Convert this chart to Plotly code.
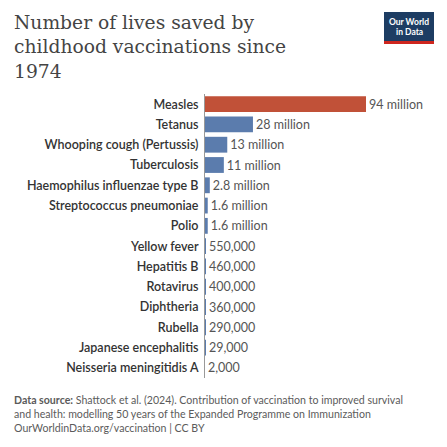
import plotly.graph_objects as go

categories = ["Measles", "Tetanus", "Whooping cough (Pertussis)", "Tuberculosis",
              "Haemophilus influenzae type B", "Streptococcus pneumoniae", "Polio",
              "Yellow fever", "Hepatitis B", "Rotavirus", "Diphtheria", "Rubella",
              "Japanese encephalitis", "Neisseria meningitidis A"]
values = [94e6, 28e6, 13e6, 11e6, 2.8e6, 1.6e6, 1.6e6,
          550000, 460000, 400000, 360000, 290000, 29000, 2000]
value_labels = ["94 million", "28 million", "13 million", "11 million", "2.8 million",
                "1.6 million", "1.6 million", "550,000", "460,000", "400,000",
                "360,000", "290,000", "29,000", "2,000"]

colors = ["#c15138" if c == "Measles" else "#5b7cad" for c in categories]
W = H = 447
O = 8  # page body margin offset


def px_x(v):
    return (v - O) / W


def px_y(v):
    return 1 - (v - O) / H


fig = go.Figure(go.Bar(
    x=values, y=categories, orientation="h",
    marker=dict(color=colors, line=dict(width=0)),
    text=value_labels, textposition="outside", cliponaxis=False,
    textfont=dict(family="Lato", size=12.5, color="#555"),
    width=0.78,
))

fig.update_layout(
    width=W, height=H,
    margin=dict(l=0, r=0, t=0, b=0),
    paper_bgcolor="white", plot_bgcolor="white",
    showlegend=False,
    xaxis=dict(range=[0, 94e6], visible=False, domain=[px_x(205), px_x(366)]),
    yaxis=dict(autorange="reversed", ticks="", showline=True, linecolor="#999",
               linewidth=1, domain=[px_y(378), px_y(94)],
               tickfont=dict(family="Lato", size=12.5, color="#333", weight=600),
               ticklabelstandoff=3),
)

fig.add_annotation(
    x=px_x(12), y=px_y(10), xref="paper", yref="paper", xanchor="left", yanchor="top",
    align="left", showarrow=False,
    text="Number of lives saved by<br>childhood vaccinations since<br>1974",
    font=dict(family="DejaVu Serif", size=18.7, color="#444"),
)

fig.add_shape(type="rect", xref="paper", yref="paper", x0=px_x(384), x1=px_x(434),
              y0=px_y(41), y1=px_y(12), fillcolor="#1d3d63", line=dict(width=0),
              layer="below")
fig.add_shape(type="rect", xref="paper", yref="paper", x0=px_x(384), x1=px_x(434),
              y0=px_y(44), y1=px_y(41), fillcolor="#ce261e", line=dict(width=0),
              layer="below")
for label, yy in [("Our World", 21.5), ("in Data", 32)]:
    fig.add_annotation(x=px_x(409), y=px_y(yy), xref="paper", yref="paper",
                       showarrow=False, text="<b>%s</b>" % label,
                       xanchor="center", yanchor="middle",
                       font=dict(family="Lato", size=8.5, color="white"))

fig.add_annotation(
    x=px_x(12), y=px_y(436), xref="paper", yref="paper", xanchor="left", yanchor="bottom",
    align="left", showarrow=False,
    text=("<b>Data source:</b> Shattock et al. (2024). Contribution of vaccination to improved survival"
          "<br>and health: modelling 50 years of the Expanded Programme on Immunization"
          "<br>OurWorldinData.org/vaccination | CC BY"),
    font=dict(family="Lato", size=10.6, color="#5b5b5b"),
)

fig.write_html("out.html")
